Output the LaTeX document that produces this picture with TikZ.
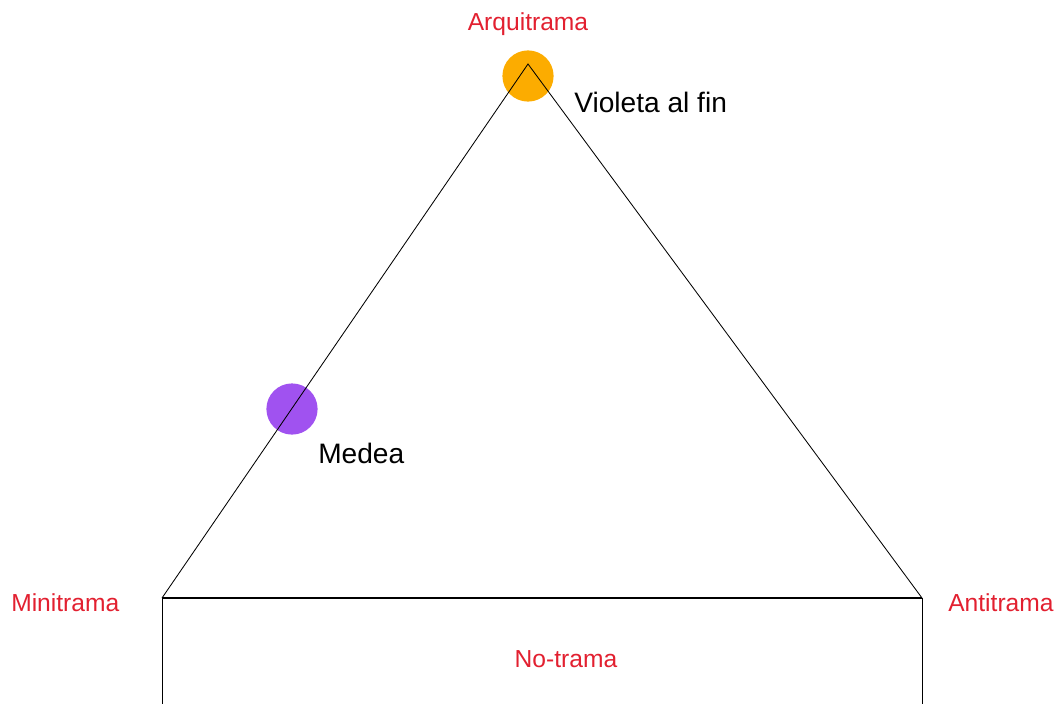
\documentclass[tikz,border=0pt]{standalone}
\usepackage{fontspec}
\setmainfont{Liberation Sans}
\usetikzlibrary{positioning, calc}
\definecolor{tramared}{RGB}{226,32,48}
\definecolor{dotorange}{RGB}{252,172,0}
\definecolor{dotpurple}{RGB}{160,82,240}

\begin{document}
\begin{tikzpicture}[
  x=0.025cm, y=-0.025cm,
  corner/.style={font=\fontsize{17.5}{20}\selectfont, text=tramared, inner sep=0pt},
  work/.style={font=\fontsize{20}{24}\selectfont, inner sep=0pt},
  dot/.style={circle, inner sep=0pt, minimum width=1.28cm, minimum height=1.24cm},
  side/.style={line width=0.6pt, black},
  base/.style={line width=1.2pt, black},
]
\useasboundingbox (0,0) rectangle (1056,704);
% works placed on the triangle
\node[dot, fill=dotorange] (violeta) at (528,76) {};
\node[dot, fill=dotpurple] (medea) at (292,409) {};
% vertices of the triangle
\coordinate (arqui) at (528,64);
\coordinate (mini) at (162,598);
\coordinate (anti) at (922,598);
\coordinate (minidown) at (162,704);
\coordinate (antidown) at (922,704);
\draw[side] (mini) -- (arqui) -- (anti);
\draw[base] (mini) -- (anti);
\draw[side] (mini) -- (minidown);
\draw[side] (anti) -- (antidown);
% labels
\node[corner, anchor=base] (arquilabel) at (528,30) {Arquitrama};
\node[corner, anchor=base west] (minilabel) at (11,611) {Minitrama};
\node[corner, anchor=base west] (antilabel) at (948,611) {Antitrama};
\node[corner, anchor=base] (nolabel) at (566,667) {No-trama};
\node[work, anchor=base west] (violetalabel) at (574,112) {Violeta al fin};
\node[work, anchor=base west] (medealabel) at (318,463) {Medea};
\end{tikzpicture}
\end{document}
